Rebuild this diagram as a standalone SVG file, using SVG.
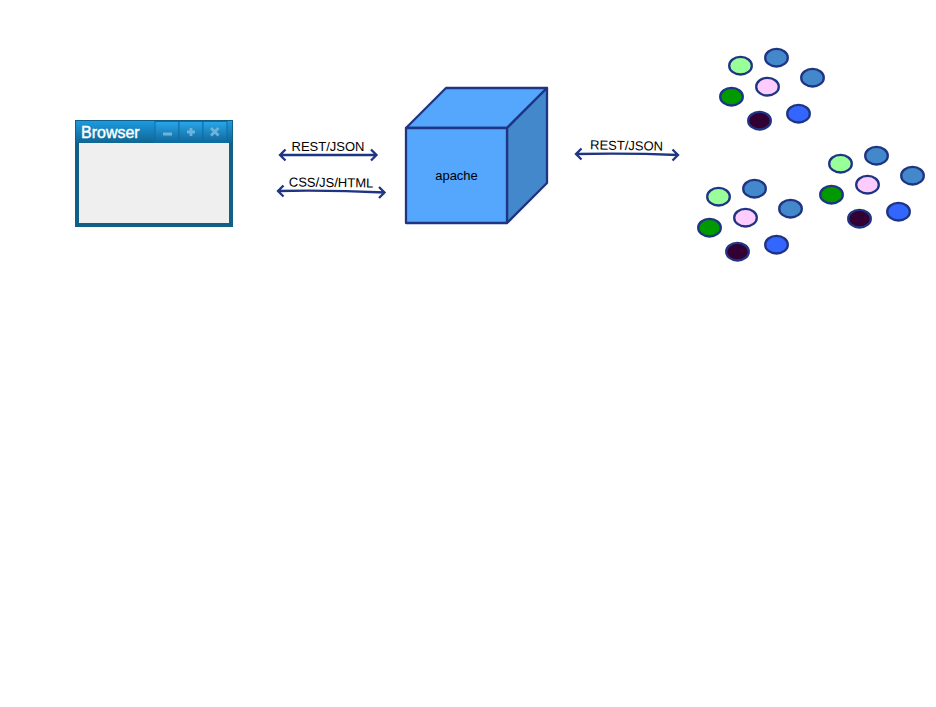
<svg xmlns="http://www.w3.org/2000/svg" width="936" height="707" viewBox="0 0 936 707">
<style>
text{font-family:"Liberation Sans",Arial,sans-serif;fill:#000}
.lbl{font-size:13px;text-anchor:middle}
.conn{fill:none;stroke:#1f3583;stroke-width:2.300}
.edge{stroke:#1f3583;stroke-width:2.300;stroke-linejoin:round}
.dot{stroke:#1f3583;stroke-width:2.300}
.a{fill:#99ff99}.b{fill:#4488cc}.c{fill:#ffccff}.d{fill:#009900}.e{fill:#330033}.f{fill:#3366ff}
.btn{fill:url(#btnG);stroke:#0d6ea6;stroke-width:1}
.gly{fill:none;stroke:#6db4dc;stroke-width:2.800}
</style>
<defs>
<linearGradient id="titleG" x1="0" y1="0" x2="0" y2="1"><stop offset="0" stop-color="#1d9ae0"/><stop offset="1" stop-color="#0f6592"/></linearGradient>
<linearGradient id="btnG" x1="0" y1="0" x2="0" y2="1"><stop offset="0" stop-color="#2aa6ea"/><stop offset="1" stop-color="#10689a"/></linearGradient>
<g id="cluster">
<ellipse class="dot a" cx="740.500" cy="65.700" rx="11.300" ry="8.800"/>
<ellipse class="dot b" cx="776.500" cy="57.700" rx="11.300" ry="8.800"/>
<ellipse class="dot b" cx="812.500" cy="77.700" rx="11.300" ry="8.800"/>
<ellipse class="dot c" cx="767.500" cy="86.700" rx="11.300" ry="8.800"/>
<ellipse class="dot d" cx="731.500" cy="96.700" rx="11.300" ry="8.800"/>
<ellipse class="dot f" cx="798.500" cy="113.700" rx="11.300" ry="8.800"/>
<ellipse class="dot e" cx="759.500" cy="120.700" rx="11.300" ry="8.800"/>
</g>
</defs>
<rect width="936" height="707" fill="#ffffff"/>
<g id="browser">
<rect x="75" y="120" width="158" height="107" fill="#115f86"/>
<rect x="76" y="121" width="156" height="22" fill="url(#titleG)"/>
<rect x="79" y="143" width="150" height="80" fill="#efefef"/>
<rect class="btn" x="155" y="121.500" width="24" height="21"/>
<rect class="btn" x="179" y="121.500" width="24" height="21"/>
<rect class="btn" x="203" y="121.500" width="24" height="21"/>
<path class="gly" d="M163 134h9M187 132h8M191 128v8M211 128l7.500 7.500M218.500 128l-7.500 7.500"/>
<text x="81" y="138" font-size="16" style="fill:#ffffff;stroke:#ffffff;stroke-width:.4">Browser</text>
</g>
<g id="apache">
<path class="edge" d="M406 128L446 88H547L507 128Z" fill="#55a7fe"/>
<path class="edge" d="M507 128L547 88V183L507 223Z" fill="#4488cc"/>
<rect class="edge" x="406" y="128" width="101" height="95" fill="#55a7fe"/>
<text x="456.500" y="180" font-size="13" text-anchor="middle">apache</text>
</g>
<g id="cluster-1"><use href="#cluster"/></g>
<g id="cluster-2"><use href="#cluster" x="100" y="98"/></g>
<g id="cluster-3"><use href="#cluster" x="-22" y="131"/></g>
<g id="connectors">
<path class="conn" d="M280 155H376.500M285.500 149.500L280 155L285.500 160.500M371 149.500L376.500 155L371 160.500"/>
<path class="conn" d="M278 191Q330 190 384.500 192.500M283.500 185.500L278 191L283.500 196.500M379 187L384.500 192.500L379 198"/>
<path class="conn" d="M576 154Q630 153 678 155M581.500 148.500L576 154L581.500 159.500M672.500 149.500L678 155L672.500 160.500"/>
</g>
<g id="labels">
<text class="lbl" x="328" y="151">REST/JSON</text>
<text class="lbl" x="331" y="187" transform="rotate(0.800 331 187)">CSS/JS/HTML</text>
<text class="lbl" x="626.500" y="150" transform="rotate(1 626.500 150)">REST/JSON</text>
</g>
</svg>
